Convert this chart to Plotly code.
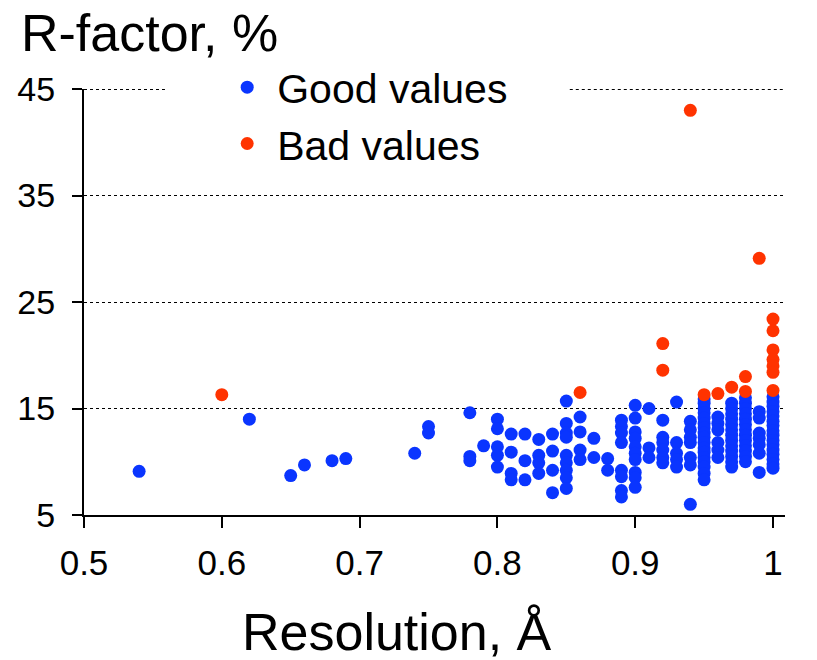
import plotly.graph_objects as go

# Resolution (Å) and R-factor (%) of the accepted structures
good_res = (
    [0.54, 0.62, 0.65, 0.66, 0.68, 0.69, 0.74, 0.75, 0.75, 0.78, 0.78, 0.78, 0.79]
    + [0.80] * 5 + [0.81] * 4 + [0.82] * 3 + [0.83] * 4 + [0.84] * 4
    + [0.85] * 9 + [0.86] * 4 + [0.87] * 2 + [0.88] * 2 + [0.89] * 8
    + [0.90] * 10 + [0.91] * 3 + [0.92] * 6 + [0.93] * 5 + [0.94] * 7
    + [0.95] * 17 + [0.96] * 6 + [0.97] * 13 + [0.98] * 13 + [0.99] * 7
    + [1.00] * 16
)
good_r = [
    9.1, 14.0, 8.7, 9.7, 10.1, 10.3, 10.8, 13.3, 12.7, 14.6, 10.5, 10.1, 11.5,
    14.0, 13.1, 11.4, 10.6, 9.5,
    12.6, 10.9, 8.9, 8.3,
    12.6, 10.1, 8.3,
    12.1, 10.6, 9.9, 8.9,
    12.6, 11.0, 9.2, 7.1,
    15.7, 13.6, 12.7, 12.3, 10.6, 9.9, 9.2, 8.5, 7.5,
    14.2, 12.8, 11.1, 10.2,
    12.2, 10.4,
    10.3, 9.2,
    13.9, 13.3, 12.7, 11.8, 9.2, 8.6, 7.3, 6.7,
    15.3, 14.1, 12.8, 12.2, 11.4, 10.8, 10.2, 9.0, 8.5, 7.6,
    15.0, 11.3, 10.4,
    13.9, 12.3, 11.8, 11.1, 10.4, 9.9,
    15.6, 11.8, 10.8, 10.2, 9.5,
    13.8, 13.0, 12.3, 11.8, 10.4, 9.7, 6.0,
    15.9, 15.5, 15.0, 14.6, 14.1, 13.6, 13.2, 12.7, 12.3, 11.8, 11.3, 10.9,
    10.4, 10.0, 9.5, 8.9, 8.3,
    14.2, 13.6, 13.0, 11.8, 11.1, 10.4,
    15.5, 15.0, 14.5, 14.0, 13.5, 13.0, 12.5, 12.0, 11.5, 11.0, 10.5, 10.0, 9.5,
    16.0, 15.5, 15.0, 14.5, 14.0, 13.5, 13.0, 12.5, 12.0, 11.5, 11.0, 10.5, 10.0,
    14.7, 14.1, 12.7, 12.2, 11.6, 10.8, 9.0,
    16.1, 15.6, 15.2, 14.7, 14.3, 13.8, 13.4, 12.9, 12.5, 12.0, 11.6, 11.1,
    10.7, 10.2, 9.8, 9.4,
]

# Structures with suspicious R-factors
bad_res = [0.60, 0.86, 0.92, 0.92, 0.94, 0.95, 0.96, 0.97, 0.98, 0.98, 0.99,
           1.00, 1.00, 1.00, 1.00, 1.00, 1.00, 1.00]
bad_r = [16.3, 16.5, 21.1, 18.6, 43.0, 16.3, 16.4, 17.0, 18.0, 16.6, 29.1,
         23.4, 22.3, 20.5, 19.6, 19.0, 18.4, 16.7]

x_ticks = [0.5, 0.6, 0.7, 0.8, 0.9, 1.0]
x_tick_text = ["0.5", "0.6", "0.7", "0.8", "0.9", "1"]
y_ticks = [5, 15, 25, 35, 45]
y_top = 45

FONT = "Liberation Sans, Arial, sans-serif"
BLUE = "#0a35ff"
RED = "#ff3300"

fig = go.Figure()
fig.add_trace(go.Scatter(
    x=good_res, y=good_r, mode="markers", name="Good values",
    marker=dict(color=BLUE, size=13, line=dict(width=0)),
))
fig.add_trace(go.Scatter(
    x=bad_res, y=bad_r, mode="markers", name="Bad values",
    marker=dict(color=RED, size=13, line=dict(width=0)),
))

# top grid line sits on the plot edge, so draw it explicitly on both
# sides of the legend panel (nudged half a pixel to stay crisp)
grid_dot = dict(color="black", width=1, dash="dot")
edge = 1 - 0.5 / 426
top_lines = [
    dict(type="line", xref="paper", yref="paper", x0=0, x1=0.1155,
         y0=edge, y1=edge, line=grid_dot, layer="above"),
    dict(type="line", xref="paper", yref="paper", x0=0.693, x1=1,
         y0=edge, y1=edge, line=grid_dot, layer="above"),
]

fig.update_layout(
    width=817, height=660,
    margin=dict(l=84, r=32, t=89, b=145),
    paper_bgcolor="white", plot_bgcolor="white",
    font=dict(family=FONT, color="black"),
    showlegend=True,
    legend=dict(
        x=0.19, y=1.082, xanchor="left", yanchor="top",
        bgcolor="white", font=dict(size=41, family=FONT),
        itemwidth=50,
    ),
    shapes=top_lines,
    xaxis=dict(
        range=[0.5, 1.0087], tickvals=x_ticks, ticktext=x_tick_text,
        showgrid=False, zeroline=False,
        showline=True, linecolor="black", linewidth=2,
        ticks="outside", ticklen=11, tickwidth=2, tickcolor="black",
        tickfont=dict(size=35, family=FONT), ticklabelstandoff=5,
    ),
    yaxis=dict(
        range=[5, y_top], tickvals=y_ticks,
        showgrid=True, gridcolor="black", gridwidth=1, griddash="dot",
        zeroline=False,
        showline=True, linecolor="black", linewidth=2,
        ticks="outside", ticklen=10, tickwidth=2, tickcolor="black",
        tickfont=dict(size=34, family=FONT), ticklabelstandoff=10,
    ),
    annotations=[
        dict(text="R-factor, %", xref="paper", yref="paper",
             x=-0.093, y=1.0, xanchor="left", yanchor="bottom", yshift=25,
             showarrow=False, font=dict(size=52, family=FONT)),
        dict(text="Resolution, Å", xref="paper", yref="paper",
             x=0.4458, y=0.0, xanchor="center", yanchor="top", yshift=-86,
             showarrow=False, font=dict(size=52, family=FONT)),
    ],
)

fig.write_html("out.html")
